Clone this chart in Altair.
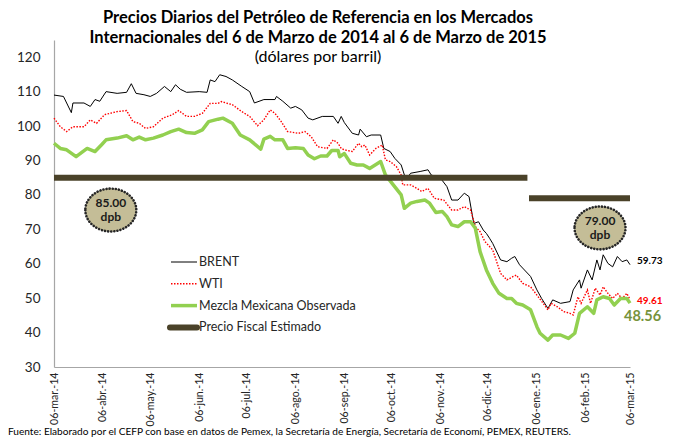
import altair as alt
import pandas as pd

# ---------------- data ----------------
brent_dates = ["2014-03-06","2014-03-12","2014-03-17","2014-03-18","2014-03-25","2014-03-29","2014-04-01","2014-04-04",
    "2014-04-08","2014-04-15","2014-04-21","2014-04-24","2014-04-27","2014-05-02","2014-05-06","2014-05-10","2014-05-15",
    "2014-05-19","2014-05-22","2014-05-25","2014-05-29","2014-06-06","2014-06-11","2014-06-13","2014-06-16","2014-06-19",
    "2014-06-23","2014-06-27","2014-07-03","2014-07-08","2014-07-11","2014-07-17","2014-07-24","2014-07-25","2014-07-29",
    "2014-08-03","2014-08-06","2014-08-10","2014-08-14","2014-08-17","2014-08-23","2014-08-30","2014-09-02","2014-09-04",
    "2014-09-06","2014-09-11","2014-09-15","2014-09-16","2014-09-20","2014-09-23","2014-09-29","2014-10-01","2014-10-05",
    "2014-10-08","2014-10-12","2014-10-15","2014-10-18","2014-10-24","2014-10-29","2014-10-31","2014-11-06","2014-11-10",
    "2014-11-13","2014-11-17","2014-11-21","2014-11-24","2014-11-27","2014-11-30","2014-12-03","2014-12-05","2014-12-07",
    "2014-12-09","2014-12-14","2014-12-18","2014-12-21","2014-12-23","2014-12-26","2015-01-02","2015-01-06","2015-01-09",
    "2015-01-13","2015-01-16","2015-01-21","2015-01-27","2015-01-29","2015-02-02","2015-02-03","2015-02-07","2015-02-10",
    "2015-02-13","2015-02-15","2015-02-17","2015-02-20","2015-02-23","2015-02-26","2015-03-01","2015-03-04","2015-03-06"]
brent_values = [109.0,108.6,103.9,106.7,106.7,105.7,107.7,107.2,
    110.0,109.5,109.8,112.3,109.5,109.1,108.6,109.5,111.5,
    110.0,112.0,110.7,109.8,110.0,109.8,113.4,112.9,114.9,
    114.4,113.4,111.5,110.0,106.7,107.7,107.7,108.6,107.2,
    105.2,105.7,104.7,102.3,101.8,102.8,102.8,100.8,102.8,
    101.0,97.9,97.4,99.1,96.9,97.4,97.4,93.5,92.6,
    90.6,88.7,84.4,86.3,86.8,87.3,85.8,84.8,82.4,
    78.5,78.5,80.5,79.5,71.7,72.2,69.8,68.8,67.4,
    65.9,61.1,60.6,61.6,62.1,59.7,56.3,52.4,49.9,
    47.0,49.5,48.5,49.0,52.4,55.3,52.9,58.2,55.3,
    61.1,58.2,62.6,60.1,59.1,62.1,60.6,61.1,59.73]

wti_dates = ["2014-03-06","2014-03-10","2014-03-14","2014-03-18","2014-03-25","2014-03-29","2014-04-02","2014-04-07",
    "2014-04-15","2014-04-21","2014-04-25","2014-04-29","2014-05-03","2014-05-08","2014-05-14","2014-05-20","2014-05-24",
    "2014-05-29","2014-06-03","2014-06-08","2014-06-13","2014-06-18","2014-06-20","2014-06-27","2014-07-03","2014-07-08",
    "2014-07-13","2014-07-17","2014-07-21","2014-07-24","2014-07-28","2014-08-01","2014-08-08","2014-08-12","2014-08-16",
    "2014-08-20","2014-08-26","2014-08-30","2014-09-02","2014-09-04","2014-09-06","2014-09-11","2014-09-15","2014-09-17",
    "2014-09-19","2014-09-22","2014-09-26","2014-09-30","2014-10-02","2014-10-05","2014-10-09","2014-10-12","2014-10-13",
    "2014-10-18","2014-10-22","2014-10-25","2014-10-29","2014-11-02","2014-11-08","2014-11-13","2014-11-17","2014-11-21",
    "2014-11-25","2014-11-28","2014-12-01","2014-12-04","2014-12-07","2014-12-09","2014-12-14","2014-12-18","2014-12-22",
    "2014-12-24","2014-12-28","2015-01-02","2015-01-06","2015-01-10","2015-01-13","2015-01-15","2015-01-19","2015-01-23",
    "2015-01-27","2015-01-29","2015-02-01","2015-02-03","2015-02-07","2015-02-09","2015-02-12","2015-02-15","2015-02-17",
    "2015-02-20","2015-02-23","2015-02-26","2015-03-01","2015-03-04","2015-03-06"]
wti_values = [102.3,99.8,98.4,99.8,99.8,101.8,100.8,103.3,
    104.2,104.5,101.3,100.8,99.3,99.8,102.3,103.3,104.5,
    102.8,102.8,103.7,106.6,106.6,107.1,106.2,104.2,102.8,
    100.1,101.8,104.7,103.7,101.3,98.4,97.9,98.4,96.9,
    94.0,93.5,96.0,95.0,93.5,93.1,92.6,95.0,94.0,
    94.5,91.6,93.5,94.5,90.2,89.7,88.2,85.8,82.9,
    82.9,81.9,81.0,81.9,79.0,78.5,75.6,75.6,76.6,
    75.6,70.8,69.3,66.5,65.0,64.0,57.2,55.3,56.3,
    56.7,54.3,53.3,50.9,48.5,46.6,48.5,47.5,46.1,
    45.6,45.1,50.4,48.5,52.4,48.5,52.9,50.9,53.3,
    51.4,49.9,51.4,49.9,51.4,49.61]

mme_dates = ["2014-03-06","2014-03-10","2014-03-14","2014-03-20","2014-03-27","2014-04-01","2014-04-05","2014-04-08",
    "2014-04-15","2014-04-21","2014-04-25","2014-04-29","2014-05-03","2014-05-08","2014-05-14","2014-05-19","2014-05-24",
    "2014-05-29","2014-06-03","2014-06-08","2014-06-12","2014-06-18","2014-06-21","2014-06-27","2014-07-02","2014-07-08",
    "2014-07-15","2014-07-17","2014-07-21","2014-07-24","2014-07-29","2014-08-01","2014-08-06","2014-08-11","2014-08-14",
    "2014-08-18","2014-08-22","2014-08-26","2014-08-29","2014-09-02","2014-09-03","2014-09-06","2014-09-10","2014-09-14",
    "2014-09-18","2014-09-22","2014-09-29","2014-10-02","2014-10-07","2014-10-12","2014-10-14","2014-10-18","2014-10-22",
    "2014-10-27","2014-10-30","2014-11-03","2014-11-07","2014-11-10","2014-11-13","2014-11-17","2014-11-21","2014-11-25",
    "2014-11-28","2014-12-01","2014-12-05","2014-12-09","2014-12-13","2014-12-18","2014-12-21","2014-12-24","2014-12-28",
    "2015-01-02","2015-01-06","2015-01-08","2015-01-13","2015-01-16","2015-01-21","2015-01-26","2015-01-30","2015-02-02",
    "2015-02-07","2015-02-11","2015-02-13","2015-02-17","2015-02-21","2015-02-24","2015-02-28","2015-03-04","2015-03-06"]
mme_values = [95.0,93.5,93.1,91.1,93.5,92.6,94.5,96.0,
    96.5,97.2,96.0,96.8,96.0,96.5,97.4,98.4,99.1,
    98.1,97.9,98.9,101.3,102.0,102.3,100.8,97.4,96.0,
    93.3,96.2,97.0,96.0,96.0,93.5,93.7,93.5,91.6,
    90.5,91.3,91.3,92.9,92.9,91.1,92.0,89.2,88.7,
    88.7,87.7,89.7,85.8,82.9,80.0,76.1,77.6,78.1,
    78.5,77.6,74.9,75.2,73.7,71.3,70.8,72.2,72.2,
    70.3,63.5,58.2,54.3,51.4,49.9,49.9,48.5,48.0,
    46.6,41.7,39.8,37.8,39.3,39.3,38.3,39.8,45.6,
    47.5,45.6,49.5,50.4,49.9,48.0,49.9,49.9,48.56]

fiscal_dates = ["2014-03-06", "2014-12-31", "2015-01-01", "2015-03-06"]
fiscal_values = [85.0, 85.0, 79.0, 79.0]
fiscal_segment = ["2014", "2014", "2015", "2015"]

bubble_dates = ["2014-04-11", "2015-02-15"]
bubble_values = [75.6, 70.4]
bubble_labels = ["85.00\ndpb", "79.00\ndpb"]

end_labels = ["59.73", "49.61", "48.56"]

legend_names = ["BRENT", "WTI", "Mezcla Mexicana Observada", "Precio Fiscal Estimado"]
legend_colors = ["#000000", "#FF0000", "#92D050", "#4A4229"]
legend_widths = [1, 1.5, 3.5, 6]

tick_dates = ["2014-03-06","2014-04-06","2014-05-06","2014-06-06","2014-07-06","2014-08-06","2014-09-06",
              "2014-10-06","2014-11-06","2014-12-06","2015-01-06","2015-02-06","2015-03-06"]
y_ticks = [30, 40, 50, 60, 70, 80, 90, 100, 110, 120]

title_lines = ["Precios Diarios del Petróleo de Referencia en los Mercados",
               "Internacionales del 6 de Marzo de 2014  al 6 de Marzo de 2015"]
subtitle = "(dólares por barril)"
source_note = ("Fuente: Elaborado por el CEFP con base en datos de Pemex,  la Secretaría de Energía, "
               "Secretaría de Economí, PEMEX, REUTERS.")

# ---------------- chart ----------------
FONT = "Lato"
TXT = "#262626"


def dt(s):
    return alt.DateTime(year=int(s[:4]), month=int(s[5:7]), date=int(s[8:10]), utc=True)


x_scale = alt.Scale(type="utc", domain=[dt(tick_dates[0]), dt(tick_dates[-1])])
y_scale = alt.Scale(domain=[30, 125], nice=False, zero=False)

months = "['ene.','feb.','mar.','abr.','may.','jun.','jul.','ago.','sep.','oct.','nov.','dic.']"
x_axis = alt.Axis(values=[dt(d) for d in tick_dates],
                  labelExpr="'06-' + " + months + "[utcmonth(datum.value)] + '-' + utcFormat(datum.value, '%y')",
                  labelAngle=-90, labelFontSize=10.6, labelFont=FONT, labelColor=TXT, labelPadding=5,
                  labelFlush=False, labelOverlap=False, labelBound=False,
                  ticks=False, grid=False, domainColor="#A6A6A6", domainWidth=1.2, title=None)
y_axis = alt.Axis(values=y_ticks, labelFontSize=13.5, labelFont=FONT, labelColor=TXT, labelPadding=14,
                  ticks=False, grid=False, domainColor="#A6A6A6", domainWidth=1.2, title=None)

X = alt.X("date:T", scale=x_scale, axis=x_axis)
Y = alt.Y("value:Q", scale=y_scale, axis=y_axis)

brent = alt.Chart(pd.DataFrame({"date": brent_dates, "value": brent_values})).mark_line(
    color="#000000", strokeWidth=1).encode(x=X, y=Y)
wti = alt.Chart(pd.DataFrame({"date": wti_dates, "value": wti_values})).mark_line(
    color="#FF0000", strokeWidth=1.4, strokeDash=[1.5, 1.5]).encode(x=X, y=Y)
mme = alt.Chart(pd.DataFrame({"date": mme_dates, "value": mme_values})).mark_line(
    color="#92D050", strokeWidth=3.5, strokeJoin="round").encode(x=X, y=Y)
fiscal = alt.Chart(pd.DataFrame({"date": fiscal_dates, "value": fiscal_values, "seg": fiscal_segment})).mark_line(
    color="#4A4229", strokeWidth=6).encode(x=X, y=Y, detail="seg:N")

bubble_df = pd.DataFrame({"date": bubble_dates, "value": bubble_values, "label": bubble_labels})
ellipse_path = "M -1 0 A 1 0.84 0 1 0 1 0 A 1 0.84 0 1 0 -1 0 Z"
bubbles = alt.Chart(bubble_df).mark_point(
    shape=ellipse_path, size=2600, filled=True, fill="#C4BD97", fillOpacity=1,
    stroke="#262626", strokeOpacity=1, strokeWidth=2.6, strokeDash=[0.1, 3], strokeCap="round").encode(x=X, y=Y)
bubble_text = alt.Chart(bubble_df).mark_text(
    font=FONT, fontSize=12, fontWeight="bold", color="#1A1A1A", lineBreak="\n", lineHeight=14,
    baseline="middle", dy=-7).encode(x=X, y=Y, text="label:N")

last = tick_dates[-1]
lab_brent = alt.Chart(pd.DataFrame({"date": [last], "value": [brent_values[-1]], "t": [end_labels[0]]})).mark_text(
    font=FONT, fontSize=10, fontWeight="bold", color="#000000", align="left", dx=7, dy=-4).encode(
    x=X, y=Y, text="t:N")
lab_wti = alt.Chart(pd.DataFrame({"date": [last], "value": [wti_values[-1]], "t": [end_labels[1]]})).mark_text(
    font=FONT, fontSize=10, fontWeight="bold", color="#FF0000", align="left", dx=7, dy=1).encode(
    x=X, y=Y, text="t:N")
lab_mme = alt.Chart(pd.DataFrame({"date": [last], "value": [mme_values[-1]], "t": [end_labels[2]]})).mark_text(
    font=FONT, fontSize=14.5, fontWeight="bold", color="#77933C", align="left", dx=-6, dy=14).encode(
    x=X, y=Y, text="t:N")

layers = [brent, wti, mme, fiscal, bubbles, bubble_text, lab_brent, lab_wti, lab_mme]

# manual legend
for i, (name, col, w) in enumerate(zip(legend_names, legend_colors, legend_widths)):
    yy = 222 + 21.8 * i
    x_start = 116 if i == 3 else 117
    kw = dict(color=col, strokeWidth=w)
    if i == 1:
        kw["strokeDash"] = [1.5, 1.5]
    if i == 3:
        kw["strokeCap"] = "round"
    one = pd.DataFrame({"name": [name]})
    layers.append(alt.Chart(one).mark_rule(**kw).encode(
        x=alt.value(x_start), x2=alt.value(143), y=alt.value(yy)))
    layers.append(alt.Chart(one).mark_text(font=FONT, fontSize=12.5, color=TXT, align="left",
                                           baseline="middle").encode(
        x=alt.value(145), y=alt.value(yy), text="name:N"))

# titles and source
for i, line in enumerate(title_lines):
    layers.append(alt.Chart(pd.DataFrame({"t": [line]})).mark_text(
        font=FONT, fontSize=16.5, fontWeight="bold", color="#000000", align="center", baseline="middle").encode(
        x=alt.value(264), y=alt.value(-22 + 20 * i), text="t:N"))
layers.append(alt.Chart(pd.DataFrame({"t": [subtitle]})).mark_text(
    font=FONT, fontSize=16, color="#000000", align="center", baseline="middle").encode(
    x=alt.value(264), y=alt.value(17), text="t:N"))
layers.append(alt.Chart(pd.DataFrame({"t": [source_note]})).mark_text(
    font=FONT, fontSize=10.1, color="#000000", align="left", baseline="middle").encode(
    x=alt.value(-46), y=alt.value(392), text="t:N"))

chart = alt.layer(*layers).properties(
    width=576, height=327,
    autosize=alt.AutoSizeParams(type="none"),
    padding={"left": 46, "top": 32, "right": 35, "bottom": 70},
).configure_view(stroke=None)

chart.save("out.html", embed_options={"renderer": "svg", "actions": False})
